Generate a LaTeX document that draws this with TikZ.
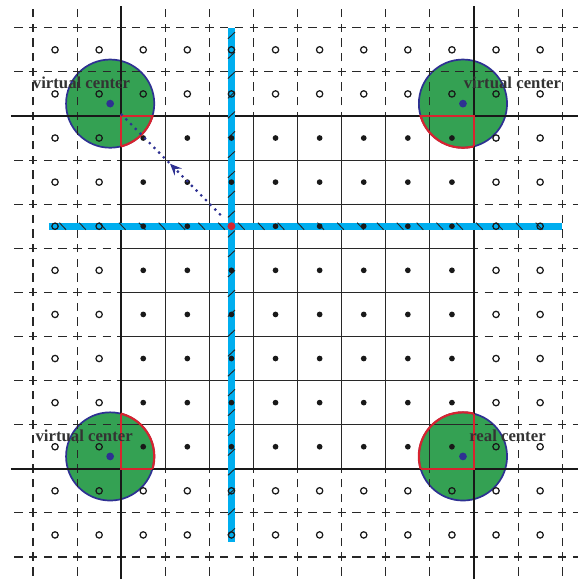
\documentclass[tikz,border=0pt]{standalone}
\usepackage{fontspec}
\setmainfont{Liberation Serif}
\usepackage{tikz}
\usetikzlibrary{positioning,arrows.meta,decorations.markings,calc}
\definecolor{cGreen}{HTML}{34A153}
\definecolor{cNavy}{HTML}{2E3192}
\definecolor{cRed}{HTML}{D7242F}
\definecolor{cCyan}{HTML}{00AEEF}
\definecolor{cLine}{HTML}{282828}
\tikzset{
  gthin/.style={cLine, line width=0.7pt},
  gdash/.style={gthin, dash pattern=on 5.4pt off 4.08pt, dash phase=7.24pt},
  gthick/.style={black!90, line width=1.4pt},
  band/.style={cCyan, line width=0.16cm},
  hatch/.style={black!85, line width=0.6pt},
  ptin/.style={fill=black!90},
  ptout/.style={draw=black!90, line width=0.8pt},
  zone/.style={fill=cGreen, draw=cNavy, line width=1.1pt},
  rim/.style={cRed, line width=1.4pt},
  ctr/.style={fill=cNavy},
  lbl/.style={font=\bfseries\fontsize{10.8}{12}\selectfont, text=black!80, inner sep=0pt},
  mvarrow/.style={cNavy, line width=2pt, line cap=round, dash pattern=on 0pt off 4.3pt,
    decoration={markings, mark=at position 0.5 with {\arrow{Stealth[length=7.5pt,width=6.5pt,inset=2.8pt]}}},
    postaction={decorate}}
}
\begin{document}
\begin{tikzpicture}
\useasboundingbox (-0.748,-0.59) rectangle (12.358,12.63);
\foreach \cx/\cy/\nm in {2/10/tl, 10/10/tr, 2/2/bl, 10/2/br}
  \coordinate (c\nm) at (\cx-0.25,\cy+0.28);
\foreach \nm in {tl,tr,bl,br}
  \draw[zone] (c\nm) circle (1);
\foreach \i in {0,1,3,4,5,6,7,8,9,11,12} {
  \draw[gdash] (\i,-0.5) -- (\i,12.5);
  \draw[gdash] (-0.5,\i) -- (12.5,\i);
}
\foreach \i in {3,...,9} {
  \draw[gthin] (\i,2) -- (\i,10);
  \draw[gthin] (2,\i) -- (10,\i);
}
\foreach \i in {2,10} {
  \draw[gthick] (\i,-0.5) -- (\i,12.5);
  \draw[gthick] (-0.5,\i) -- (12.5,\i);
}
\draw[band] (0.36,7.5) -- (12,7.5);
\draw[band] (4.5,0.34) -- (4.5,12);
\foreach \t in {0.6,1.05,...,11.8}
  \draw[hatch] (\t,7.58) -- ++(0.15,-0.16);
\foreach \t in {0.5,0.95,...,11.8}
  \draw[hatch] (4.42,\t) -- ++(0.16,0.15);
\foreach \i in {0,...,11}
  \foreach \j in {0,...,11} {
    \pgfmathtruncatemacro\inn{and(and(\i>1,\i<10),and(\j>1,\j<10))}
    \ifnum\inn=1
      \fill[ptin] (\i+0.5,\j+0.5) circle (0.065);
    \else
      \draw[ptout] (\i+0.5,\j+0.5) circle (0.072);
    \fi
  }
\foreach \cx/\cy/\sx/\sy/\nm in {2/10/1/-1/tl, 10/10/-1/-1/tr, 2/2/1/1/bl, 10/2/-1/1/br} {
  \begin{scope}
    \clip (\cx,\cy) rectangle ++(3*\sx,3*\sy);
    \draw[rim] (c\nm) circle (1);
  \end{scope}
  \begin{scope}
    \clip (c\nm) circle (1);
    \draw[rim] (\cx+3*\sx,\cy) -- (\cx,\cy) -- (\cx,\cy+3*\sy);
  \end{scope}
}
\foreach \nm in {tl,tr,bl,br}
  \fill[ctr] (c\nm) circle (0.088);
\coordinate (cross) at (4.5,7.5);
\fill[cRed] (cross) circle (0.09);
\coordinate (src) at (4.24,7.77);
\coordinate (dst) at (1.97,10.07);
\draw[mvarrow] (src) -- (dst);
\node[lbl] (lbltl) at (1.1,10.76) {virtual center};
\node[lbl] (lbltr) at (10.87,10.76) {virtual center};
\node[lbl] (lblbl) at (1.16,2.75) {virtual center};
\node[lbl] (lblbr) at (10.76,2.75) {real center};
\end{tikzpicture}
\end{document}
